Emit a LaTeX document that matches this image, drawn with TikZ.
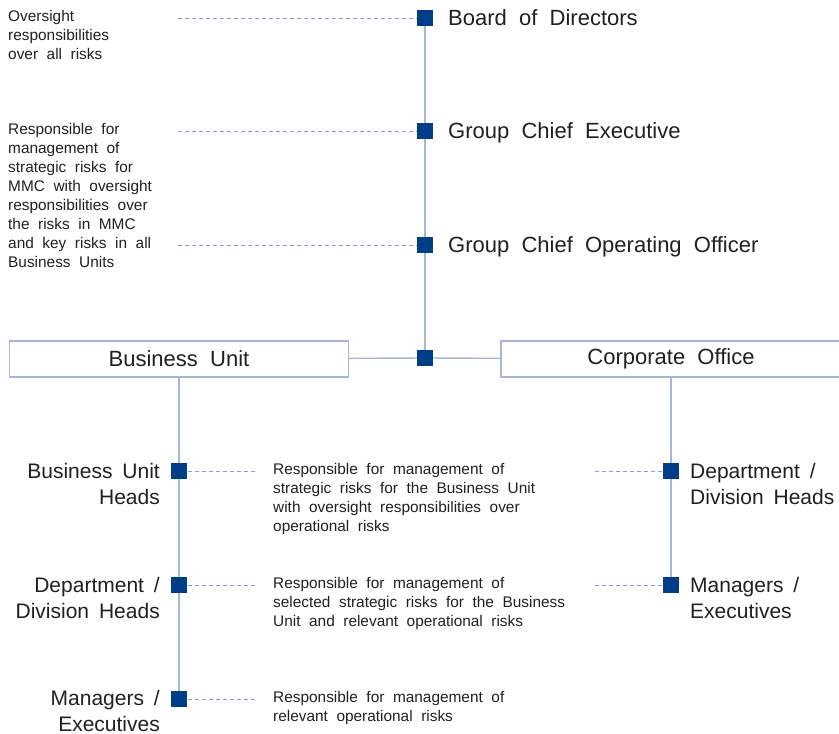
\documentclass[tikz,border=0pt]{standalone}
\usepackage{fontspec}
\setmainfont{Liberation Sans}[WordSpace=2.0]
\newfontfamily\rankfont{Liberation Sans}[WordSpace=1.7]
\usetikzlibrary{positioning}
\definecolor{sqblue}{HTML}{003F88}
\definecolor{linegrey}{HTML}{A9B6DA}
\definecolor{dashblue}{HTML}{8A9DD3}
\definecolor{inkgrey}{HTML}{231F20}

\begin{document}
\begin{tikzpicture}[x=1pt,y=-1pt,
  every node/.style={inner sep=0pt,text=inkgrey},
  sq/.style={fill=sqblue,minimum size=16pt},
  unit/.style={draw=linegrey,line width=1.3pt,minimum height=36pt,
    font=\fontsize{22}{26}\selectfont},
  role/.style={font=\fontsize{22}{26}\selectfont},
  rank/.style={font=\rankfont\fontsize{21}{26}\selectfont},
  note/.style={font=\fontsize{15.4}{19}\selectfont},
  link/.style={draw=linegrey,line width=1.4pt},
  hint/.style={draw=dashblue,line width=0.9pt,dash pattern=on 4pt off 3pt}]
  \useasboundingbox (0,0) rectangle (839,734);

  % top of the chain
  \node[sq] (bod) at (425,18) {};
  \node[sq] (gce) at (425,131) {};
  \node[sq] (gcoo) at (425,245) {};
  \node[sq] (hub) at (425,358) {};
  \node[unit,minimum width=339pt] (bu) at (179,359) {Business Unit};
  \node[unit,minimum width=340pt] (co) at (671,359) {Corporate Office};
  \draw[link] (bod) -- (gce);
  \draw[link] (gce) -- (gcoo);
  \draw[link] (gcoo) -- (hub);
  \draw[link] (bu) -- (hub);
  \draw[link] (hub) -- (co);

  \node[role,anchor=base west] (bodl) at (448,25) {Board of Directors};
  \node[role,anchor=base west] (gcel) at (448,138) {Group Chief Executive};
  \node[role,anchor=base west] (gcool) at (448,252) {Group Chief Operating Officer};

  % base of a stacked node sits on its last line
  \coordinate (d1) at (178,18);
  \coordinate (d2) at (178,131);
  \coordinate (d3) at (178,245);
  \draw[hint] (d1) -- (bod);
  \draw[hint] (d2) -- (gce);
  \draw[hint] (d3) -- (gcoo);
  \node[note,align=left,anchor=base west] (bodn) at (8,59)
    {Oversight\\responsibilities\\over all risks};
  \node[note,align=left,anchor=base west] (gcen) at (8,267)
    {Responsible for\\management of\\strategic risks for\\MMC with oversight\\responsibilities over\\the risks in MMC\\and key risks in all\\Business Units};

  % business unit branch
  \node[sq] (buh) at (179,471) {};
  \node[sq] (budh) at (179,585) {};
  \node[sq] (bume) at (179,699) {};
  \draw[link] (bu) -- (buh);
  \draw[link] (buh) -- (budh);
  \draw[link] (budh) -- (bume);
  \node[rank,align=right,anchor=base east] (buhl) at (160,504) {Business Unit\\Heads};
  \node[rank,align=right,anchor=base east] (budhl) at (160,618) {Department /\\Division Heads};
  \node[rank,align=right,anchor=base east] (bumel) at (160,731) {Managers /\\Executives};

  \coordinate (e1) at (255,471);
  \coordinate (e2) at (255,585);
  \coordinate (e3) at (255,699);
  \draw[hint] (e1) -- (buh);
  \draw[hint] (e2) -- (budh);
  \draw[hint] (e3) -- (bume);
  \node[note,align=left,anchor=base west] (buhn) at (273,531)
    {Responsible for management of\\strategic risks for the Business Unit\\with oversight responsibilities over\\operational risks};
  \node[note,align=left,anchor=base west] (budhn) at (273,626)
    {Responsible for management of\\selected strategic risks for the Business\\Unit and relevant operational risks};
  \node[note,align=left,anchor=base west] (bumen) at (273,721)
    {Responsible for management of\\relevant operational risks};

  % corporate office branch
  \node[sq] (codh) at (671,471) {};
  \node[sq] (come) at (671,585) {};
  \draw[link] (co) -- (codh);
  \draw[link] (codh) -- (come);
  \node[rank,align=left,anchor=base west] (codhl) at (690,504) {Department /\\Division Heads};
  \node[rank,align=left,anchor=base west] (comel) at (690,618) {Managers /\\Executives};
  \coordinate (f1) at (595,471);
  \coordinate (f2) at (595,585);
  \draw[hint] (f1) -- (codh);
  \draw[hint] (f2) -- (come);
\end{tikzpicture}
\end{document}
